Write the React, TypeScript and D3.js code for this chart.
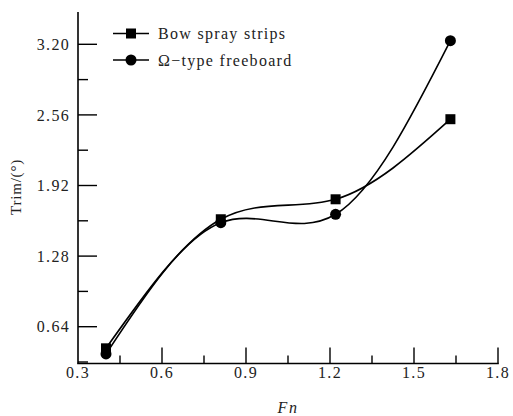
import React from "react";
import * as d3 from "d3";

const fnValues = [0.4, 0.81, 1.22, 1.63];
const bowSpray = [0.444, 1.614, 1.795, 2.521];
const omegaType = [0.393, 1.583, 1.659, 3.233];
const seriesNames = ["Bow spray strips", "Ω−type freeboard"];
const xTicks = [0.3, 0.6, 0.9, 1.2, 1.5, 1.8];
const xMinor = [0.45, 0.75, 1.05, 1.35, 1.65];
const yTicks = [0.64, 1.28, 1.92, 2.56, 3.2];
const yMinor = [0.32, 0.96, 1.6, 2.24, 2.88];

export default function App() {
  const W = 513, H = 416;
  const x = d3.scaleLinear().domain([0.3, 1.8]).range([78, 498]);
  const y = d3.scaleLinear().domain([0.64, 3.2]).range([326.7, 44.3]);
  const axisTop = 12, axisBottom = 363.5;
  const font = "Liberation Serif, DejaVu Serif, serif";
  const line = d3
    .line<number>()
    .x((_, i) => x(fnValues[i]))
    .y((d) => y(d))
    .curve(d3.curveNatural);

  return (
    <svg width={W} height={H} style={{ position: "absolute", left: 0, top: 0 }}>
      <rect width={W} height={H} fill="#fff" />
      {/* axes */}
      <line x1={x(0.3)} x2={x(0.3)} y1={axisTop} y2={axisBottom} stroke="#000" strokeWidth={1.6} />
      <line x1={x(0.3) - 0.8} x2={x(1.8) + 0.8} y1={axisBottom} y2={axisBottom} stroke="#000" strokeWidth={1.6} />
      {yTicks.map((t) => (
        <g key={"y" + t}>
          <line x1={x(0.3)} x2={x(0.3) + 19} y1={y(t)} y2={y(t)} stroke="#000" strokeWidth={1.4} />
          <text x={70} y={y(t)} dy="0.35em" textAnchor="end" fontFamily={font} fontSize={16} letterSpacing={1.3} fill="#222">
            {t.toFixed(2)}
          </text>
        </g>
      ))}
      {yMinor.map((t) => (
        <line key={"ym" + t} x1={x(0.3)} x2={x(0.3) + 10} y1={y(t)} y2={y(t)} stroke="#000" strokeWidth={1.4} />
      ))}
      {xTicks.map((t) => (
        <g key={"x" + t}>
          {t > 0.3 && (
            <line x1={x(t)} x2={x(t)} y1={axisBottom} y2={axisBottom - 16} stroke="#000" strokeWidth={1.4} />
          )}
          <text x={x(t)} y={378} textAnchor="middle" fontFamily={font} fontSize={16} letterSpacing={1.3} fill="#222">
            {t.toFixed(1)}
          </text>
        </g>
      ))}
      {xMinor.map((t) => (
        <line key={"xm" + t} x1={x(t)} x2={x(t)} y1={axisBottom} y2={axisBottom - 8} stroke="#000" strokeWidth={1.4} />
      ))}
      <text x={288} y={413} textAnchor="middle" fontFamily={font} fontStyle="italic" fontSize={16} letterSpacing={1.5} fill="#222">
        Fn
      </text>
      <text
        transform={`translate(21,187) rotate(-90)`}
        textAnchor="middle"
        fontFamily={font}
        fontSize={15}
        letterSpacing={0.8}
        fill="#222"
      >
        Trim/(°)
      </text>
      {/* series */}
      <path d={line(bowSpray) || ""} fill="none" stroke="#000" strokeWidth={1.6} />
      <path d={line(omegaType) || ""} fill="none" stroke="#000" strokeWidth={1.6} />
      {bowSpray.map((v, i) => (
        <rect key={"s" + i} x={x(fnValues[i]) - 5} y={y(v) - 5} width={10} height={10} fill="#000" />
      ))}
      {omegaType.map((v, i) => (
        <circle key={"c" + i} cx={x(fnValues[i])} cy={y(v)} r={5.5} fill="#000" />
      ))}
      {/* legend */}
      <g>
        <line x1={113} x2={149} y1={33.5} y2={33.5} stroke="#000" strokeWidth={1.6} />
        <rect x={126} y={28.5} width={10} height={10} fill="#000" />
        <text x={158} y={33.5} dy="0.35em" fontFamily={font} fontSize={16} letterSpacing={1.3} fill="#222">
          {seriesNames[0]}
        </text>
        <line x1={113} x2={149} y1={60} y2={60} stroke="#000" strokeWidth={1.6} />
        <circle cx={131} cy={60} r={5.5} fill="#000" />
        <text x={158} y={60} dy="0.35em" fontFamily={font} fontSize={16} letterSpacing={1.3} fill="#222">
          {seriesNames[1]}
        </text>
      </g>
    </svg>
  );
}
